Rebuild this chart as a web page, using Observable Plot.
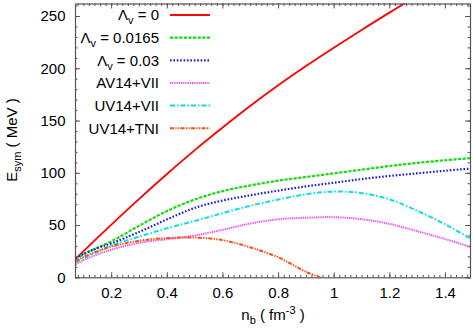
<!DOCTYPE html>
<html><head><meta charset="utf-8">
<script src="https://cdn.jsdelivr.net/npm/d3@7"></script>
<script src="https://cdn.jsdelivr.net/npm/@observablehq/plot@0.6"></script>
<style>body{margin:0;background:#fff} svg{display:block}</style>
</head><body><div id="chart"></div>
<script>
// densities n_b (fm^-3)
const xs = [0.07, 0.1, 0.15, 0.2, 0.3, 0.4, 0.5, 0.6, 0.7, 0.8, 0.9, 1.0, 1.1, 1.2, 1.3, 1.4, 1.49];
const xsRed = [0.07, 0.1, 0.15, 0.2, 0.3, 0.4, 0.5, 0.6, 0.7, 0.8, 0.9, 1.0, 1.1, 1.2, 1.3];
const xsTNI = [0.07, 0.1, 0.15, 0.2, 0.3, 0.4, 0.5, 0.6, 0.7, 0.8, 0.85, 0.9, 0.955];
// E_sym (MeV)
const lambda0     = [18, 25.8, 38.6, 51.2, 75.8, 99.6, 122.4, 144, 164.8, 184.4, 202.8, 220.4, 237.4, 254, 270];
const lambda0165  = [18, 22.5, 29, 35, 50, 64, 75, 83, 88.5, 93, 96.5, 100, 103.5, 107, 110, 112.5, 114.5];
const lambda003   = [19, 23, 28.5, 33, 44, 56, 67, 74, 79, 83.5, 87.5, 91, 94.5, 97.5, 100, 102.5, 104.5];
const av14vii     = [13, 17, 22.5, 27, 33.5, 37, 40.5, 46, 52, 56, 57.5, 58, 56, 51.5, 44.5, 37, 29.5];
const uv14vii     = [15, 19, 25, 31, 39.5, 47.5, 54.5, 62, 69, 75, 80, 82.5, 81, 75, 64, 51, 37.5];
const uv14tni     = [16, 20, 25.5, 30, 35.5, 38, 38.5, 36, 29, 19.5, 12.5, 5.5, 0];

const xTicks = [0.2, 0.4, 0.6, 0.8, 1, 1.2, 1.4];
const yTicks = [0, 50, 100, 150, 200, 250];
const xMinor = d3.range(4, 75).map(i => +(i * 0.02).toFixed(2)).filter(v => v > 0.07 && v < 1.49);
const yMinor = d3.range(0, 27).map(i => i * 10).filter(v => v <= 262);

const seriesNames = ["Λv = 0", "Λv = 0.0165", "Λv = 0.03", "AV14+VII", "UV14+VII", "UV14+TNI"];
const seriesX = [xsRed, xs, xs, xs, xs, xsTNI];
const seriesY = [lambda0, lambda0165, lambda003, av14vii, uv14vii, uv14tni];
const colors = ["#ff0000", "#11dd11", "#1a1aee", "#ee44ee", "#11dddd", "#ff4a10"];
const dashes = [null, "3.2,1.4", "1.6,1.8", "1.2,1.0", "5,2,1.5,2", "4,1.3,1.3,1.3,1.3,1.3"];
const widths = [1.8, 2.2, 2.2, 2.0, 2.0, 2.0];

const rows = [];
seriesNames.forEach((name, i) => seriesX[i].forEach((x, j) => rows.push({series: name, i, x, y: seriesY[i][j]})));

const fmt = d => String(+d.toFixed(1));
const axisColor = "#555";

const W = 473, H = 331, mL = 75, mR = 3, mT = 3.5, mB = 53.7;
const plotH = H - mT - mB, plotW = W - mL - mR;
const majorLen = 5, minorLen = 2.5;

const plot = Plot.plot({
  width: W, height: H,
  marginLeft: mL, marginRight: mR, marginTop: mT, marginBottom: mB,
  style: {fontFamily: "'Liberation Sans', Arial, sans-serif", fontSize: "15px", background: "#fff", color: "#000"},
  x: {domain: [0.07, 1.49], label: null},
  y: {domain: [0, 262], label: null},
  marks: [
    Plot.axisX(xTicks, {anchor: "bottom", tickSize: 0, tickPadding: 10, tickFormat: fmt, label: null}),
    Plot.axisY(yTicks, {anchor: "left", tickSize: 0, tickPadding: 10, label: null}),
    // inward ticks on all four sides (gnuplot style)
    Plot.tickX(xTicks, {x: d => d, stroke: axisColor, insetTop: plotH - majorLen}),
    Plot.tickX(xTicks, {x: d => d, stroke: axisColor, insetBottom: plotH - majorLen}),
    Plot.tickX(xMinor, {x: d => d, stroke: axisColor, insetTop: plotH - minorLen}),
    Plot.tickX(xMinor, {x: d => d, stroke: axisColor, insetBottom: plotH - minorLen}),
    Plot.tickY(yTicks, {y: d => d, stroke: axisColor, insetRight: plotW - majorLen}),
    Plot.tickY(yTicks, {y: d => d, stroke: axisColor, insetLeft: plotW - majorLen}),
    Plot.tickY(yMinor, {y: d => d, stroke: axisColor, insetRight: plotW - minorLen}),
    Plot.tickY(yMinor, {y: d => d, stroke: axisColor, insetLeft: plotW - minorLen}),
    ...seriesNames.map((name, i) => Plot.line(rows.filter(r => r.i === i), {
      x: "x", y: "y", stroke: colors[i], strokeWidth: widths[i],
      strokeDasharray: dashes[i], strokeLinecap: "butt", strokeLinejoin: "miter",
      curve: "catmull-rom", clip: true
    })),
    Plot.frame({stroke: axisColor, strokeWidth: 1.2})
  ]
});
document.getElementById("chart").append(plot);

const svg = d3.select(plot);
const font = "'Liberation Sans', Arial, sans-serif";

// legend
const leg = svg.append("g").attr("font-family", font).attr("font-size", 15);
const legendLabels = [
  {main: "Λ", sub: "v", rest: " = 0"},
  {main: "Λ", sub: "v", rest: " = 0.0165"},
  {main: "Λ", sub: "v", rest: " = 0.03"},
  {main: "AV14+VII"},
  {main: "UV14+VII"},
  {main: "UV14+TNI"}
];
legendLabels.forEach((lab, i) => {
  const yc = 15 + i * 22.65;
  const t = leg.append("text").attr("x", 159).attr("y", yc).attr("dy", "0.36em").attr("text-anchor", "end");
  t.append("tspan").text(lab.main);
  if (lab.sub) {
    t.append("tspan").attr("font-size", 11).attr("dy", 4).text(lab.sub);
    t.append("tspan").attr("dy", -4).text(lab.rest);
  }
  leg.append("line").attr("x1", 170).attr("x2", 210).attr("y1", yc).attr("y2", yc)
    .attr("stroke", colors[i]).attr("stroke-width", widths[i])
    .attr("stroke-dasharray", dashes[i]);
});

// axis titles
const yl = svg.append("text").attr("font-family", font).attr("font-size", 15)
  .attr("text-anchor", "middle").attr("transform", "translate(17,140) rotate(-90)");
yl.append("tspan").text("E");
yl.append("tspan").attr("font-size", 11).attr("dy", 4).text("sym");
yl.append("tspan").attr("dy", -4).text(" ( MeV )");

const xl = svg.append("text").attr("font-family", font).attr("font-size", 15)
  .attr("text-anchor", "middle").attr("x", 273).attr("y", 320);
xl.append("tspan").text("n");
xl.append("tspan").attr("font-size", 11).attr("dy", 4).text("b");
xl.append("tspan").attr("dy", -4).text(" ( fm");
xl.append("tspan").attr("font-size", 11).attr("dy", -6).text("-3");
xl.append("tspan").attr("dy", 6).text(" )");
</script>
</body></html>
